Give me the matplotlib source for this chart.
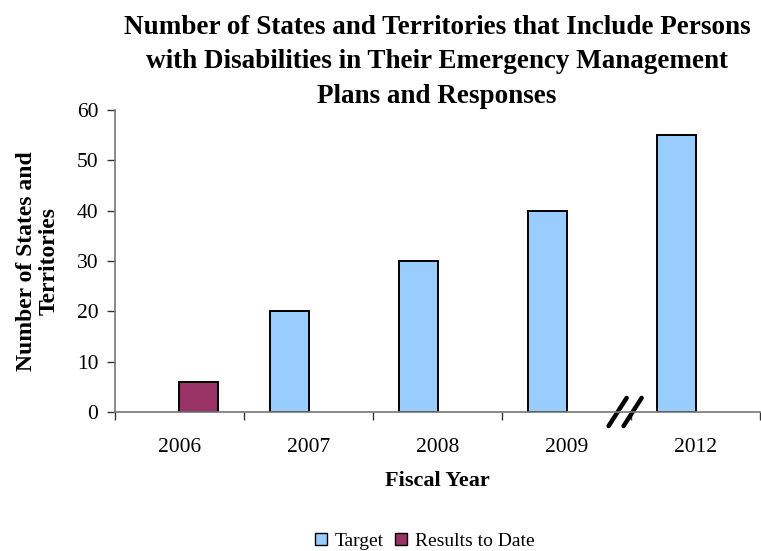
import numpy as np
import matplotlib.pyplot as plt
from matplotlib.patches import Patch

plt.rcParams['font.family'] = ['Liberation Serif', 'DejaVu Serif']

years = ['2006', '2007', '2008', '2009', '2012']
target = [0, 20, 30, 40, 55]
results = [6, 0, 0, 0, 0]

target_color = '#99ccff'
results_color = '#993366'

fig = plt.figure(figsize=(7.61, 5.51), dpi=100)
ax = fig.add_axes([0.151, 0.2523, 0.848, 0.548])

x = np.arange(len(years))
w = 0.3
for i in range(len(years)):
    if target[i] > 0:
        ax.bar(x[i] + 0.5 - w, target[i], w, align='edge', color=target_color,
               edgecolor='black', linewidth=1.4)
    if results[i] > 0:
        ax.bar(x[i] + 0.5, results[i], w, align='edge', color=results_color,
               edgecolor='black', linewidth=1.4)

ax.set_xlim(0, len(years))
ax.set_ylim(0, 60)
ax.set_yticks(range(0, 61, 10))
ax.set_xticks(x + 0.5)
ax.set_xticklabels(years, fontsize=15.5)
ax.set_xticks(np.arange(len(years) + 1), minor=True)
ax.tick_params(axis='x', which='major', length=0, pad=19)
ax.tick_params(axis='x', which='minor', length=6, width=1, direction='out', color='#333333')
ax.tick_params(axis='y', labelsize=15.5, length=6, width=1, color='#333333', pad=6)

for s in ['top', 'right']:
    ax.spines[s].set_visible(False)
for s in ['left', 'bottom']:
    ax.spines[s].set_color('#777777')
    ax.spines[s].set_linewidth(1.2)

# axis break marks between 2009 and 2012
for dx in (-0.058, 0.058):
    ax.plot([3.953 + dx - 0.07, 3.953 + dx + 0.07], [-2.8, 2.8], color='black',
            linewidth=3.2, clip_on=False, solid_capstyle='round')

ax.set_xlabel('Fiscal Year', fontsize=16, fontweight='bold', labelpad=10)
ax.set_ylabel('Number of States and\nTerritories', fontsize=17, fontweight='bold',
              labelpad=12, linespacing=1.15)

fig.suptitle('Number of States and Territories that Include Persons\n'
             'with Disabilities in Their Emergency Management\n'
             'Plans and Responses', fontsize=19.5, fontweight='bold',
             x=0.574, y=0.973, linespacing=1.5)

handles = [Patch(facecolor=target_color, edgecolor='black', label='Target'),
           Patch(facecolor=results_color, edgecolor='black', label='Results to Date')]
fig.legend(handles=handles, loc='center', bbox_to_anchor=(0.558, 0.018), ncol=2,
           frameon=False, fontsize=14, handlelength=0.6, handleheight=0.6,
           handletextpad=0.4, columnspacing=0.6, borderaxespad=0)

fig.savefig('out.png', dpi=100)
